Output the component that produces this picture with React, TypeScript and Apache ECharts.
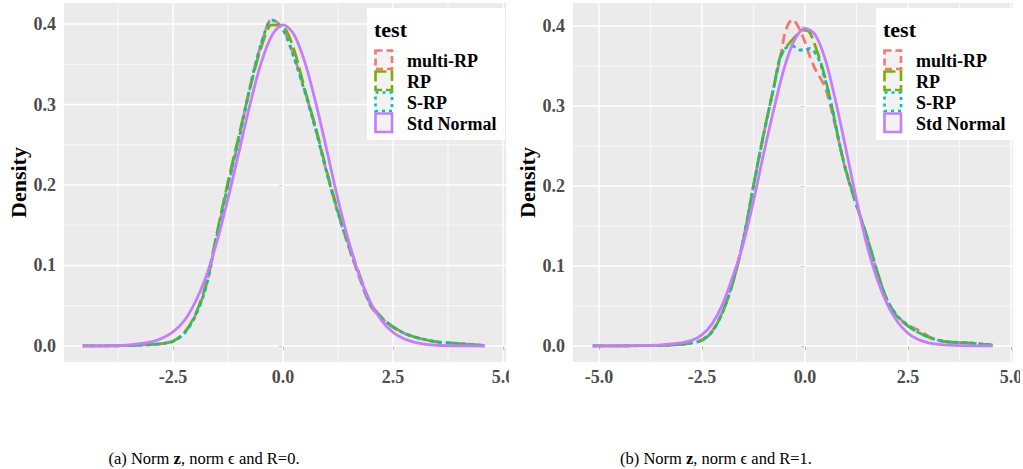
import React, { useEffect, useRef } from "react";
import * as echarts from "echarts";

const FONT = "'Liberation Serif', 'Times New Roman', serif";

const SERIES_NAMES = ["multi-RP", "RP", "S-RP", "Std Normal"];
const COLORS = ["#F8766D", "#7CAE00", "#00BFC4", "#C77CFF"];
const DASHES: (number[] | null)[] = [[10, 5], [16, 5], [4, 4], null];
const LEGEND_TITLE = "test";
const Y_TITLE = "Density";

const Y_TICKS = [0, 0.1, 0.2, 0.3, 0.4];
const Y_MINOR = [0.05, 0.15, 0.25, 0.35];
const A_X_TICKS = [-2.5, 0, 2.5, 5];
const B_X_TICKS = [-5, -2.5, 0, 2.5, 5];
const X_MINOR = [-3.75, -1.25, 1.25, 3.75];

// ---------- panel (a): R=0 ----------
const A_X = [-4.55, -4, -3.5, -3, -2.75, -2.5, -2.25, -2, -1.75, -1.5, -1.25, -1, -0.75, -0.5, -0.25, 0, 0.25, 0.5, 0.75, 1, 1.25, 1.5, 1.75, 2, 2.25, 2.5, 2.75, 3, 3.25, 3.5, 4, 4.59];
const A_MULTI = [0.0001, 0.0002, 0.0006, 0.0018, 0.003, 0.006, 0.016, 0.037, 0.074, 0.138, 0.199, 0.258, 0.322, 0.374, 0.406, 0.394, 0.36, 0.316, 0.268, 0.214, 0.165, 0.122, 0.083, 0.049, 0.034, 0.023, 0.016, 0.011, 0.0075, 0.005, 0.003, 0.0005];
const A_RP = [0.0001, 0.0002, 0.0005, 0.0017, 0.003, 0.006, 0.016, 0.038, 0.077, 0.141, 0.204, 0.262, 0.32, 0.37, 0.399, 0.397, 0.368, 0.318, 0.27, 0.216, 0.168, 0.126, 0.087, 0.052, 0.035, 0.024, 0.016, 0.011, 0.0075, 0.005, 0.003, 0.0005];
const A_SRP = [0.0001, 0.0002, 0.0005, 0.0017, 0.003, 0.0055, 0.015, 0.036, 0.073, 0.137, 0.2, 0.257, 0.321, 0.375, 0.405, 0.393, 0.358, 0.315, 0.267, 0.214, 0.165, 0.123, 0.084, 0.05, 0.034, 0.024, 0.016, 0.011, 0.008, 0.005, 0.003, 0.0005];
const A_STD = [0.0001, 0.0003, 0.0012, 0.005, 0.0095, 0.0175, 0.031, 0.054, 0.086, 0.13, 0.183, 0.241, 0.3, 0.351, 0.386, 0.399, 0.387, 0.352, 0.301, 0.242, 0.182, 0.129, 0.085, 0.053, 0.031, 0.017, 0.009, 0.0044, 0.002, 0.0009, 0.0002, 0.0];

// ---------- panel (b): R=1 ----------
const B_MULTI_X = [-5.15, -4.5, -4, -3.5, -3, -2.75, -2.5, -2.25, -2, -1.75, -1.5, -1.25, -1, -0.75, -0.6, -0.5, -0.4, -0.3, -0.15, 0, 0.12, 0.25, 0.5, 0.75, 1, 1.25, 1.5, 1.75, 2, 2.25, 2.5, 2.75, 3, 3.25, 3.5, 4, 4.56];
const B_MULTI = [0.0001, 0.0002, 0.0004, 0.0008, 0.002, 0.004, 0.008, 0.019, 0.043, 0.08, 0.132, 0.2, 0.265, 0.325, 0.36, 0.388, 0.403, 0.408, 0.398, 0.38, 0.362, 0.346, 0.322, 0.272, 0.217, 0.176, 0.137, 0.093, 0.057, 0.037, 0.026, 0.02, 0.012, 0.007, 0.005, 0.0035, 0.001];
const B_RP_X = [-5.15, -4.5, -4, -3.5, -3, -2.75, -2.5, -2.25, -2, -1.75, -1.5, -1.25, -1, -0.75, -0.6, -0.45, -0.25, -0.05, 0.1, 0.25, 0.45, 0.65, 0.85, 1, 1.25, 1.5, 1.75, 2, 2.25, 2.5, 2.75, 3, 3.25, 3.5, 4, 4.56];
const B_RP = [0.0001, 0.0002, 0.0004, 0.0008, 0.002, 0.004, 0.007, 0.018, 0.042, 0.079, 0.131, 0.2, 0.266, 0.325, 0.362, 0.374, 0.386, 0.395, 0.393, 0.375, 0.343, 0.3, 0.25, 0.219, 0.177, 0.138, 0.094, 0.056, 0.036, 0.025, 0.017, 0.011, 0.007, 0.005, 0.0035, 0.001];
const B_SRP_X = [-5.15, -4.5, -4, -3.5, -3, -2.75, -2.5, -2.25, -2, -1.75, -1.5, -1.25, -1, -0.75, -0.6, -0.45, -0.3, -0.12, 0, 0.12, 0.28, 0.4, 0.65, 0.85, 1, 1.25, 1.5, 1.75, 2, 2.25, 2.5, 2.75, 3, 3.25, 3.5, 4, 4.56];
const B_SRP = [0.0001, 0.0002, 0.0004, 0.0008, 0.002, 0.004, 0.007, 0.018, 0.042, 0.08, 0.132, 0.2, 0.265, 0.325, 0.36, 0.373, 0.375, 0.37, 0.37, 0.372, 0.364, 0.349, 0.3, 0.25, 0.218, 0.176, 0.137, 0.093, 0.057, 0.037, 0.026, 0.017, 0.011, 0.007, 0.005, 0.004, 0.001];
const B_STD_X = [-5.15, -4.5, -4, -3.5, -3, -2.75, -2.5, -2.25, -2, -1.75, -1.5, -1.25, -1, -0.75, -0.5, -0.25, 0, 0.25, 0.5, 0.75, 1, 1.25, 1.5, 1.75, 2, 2.25, 2.5, 2.75, 3, 3.25, 3.5, 4, 4.56];
const B_STD = [0.0001, 0.0003, 0.0007, 0.0015, 0.004, 0.007, 0.014, 0.028, 0.052, 0.087, 0.127, 0.181, 0.241, 0.297, 0.348, 0.383, 0.397, 0.389, 0.357, 0.305, 0.245, 0.183, 0.127, 0.084, 0.052, 0.03, 0.016, 0.008, 0.004, 0.002, 0.001, 0.0003, 0.0001];

const CAPTION_A = "(a) Norm {b|z}, norm ϵ and R=0.";
const CAPTION_B = "(b) Norm {b|z}, norm ϵ and R=1.";

type Spec = {
  xMin: number;
  xMax: number;
  yMin: number;
  yMax: number;
  gridLeft: number;
  gridWidth: number;
  xTicks: number[];
  series: { xs: number[]; ys: number[] }[];
  caption: string;
  captionX: number;
};

const SPEC_A: Spec = {
  xMin: -4.977,
  xMax: 5.068,
  yMin: -0.0199,
  yMax: 0.4261,
  gridLeft: 64,
  gridWidth: 442,
  xTicks: A_X_TICKS,
  series: [
    { xs: A_X, ys: A_MULTI },
    { xs: A_X, ys: A_RP },
    { xs: A_X, ys: A_SRP },
    { xs: A_X, ys: A_STD },
  ],
  caption: CAPTION_A,
  captionX: 204,
};

const SPEC_B: Spec = {
  xMin: -5.63,
  xMax: 5.05,
  yMin: -0.02,
  yMax: 0.42875,
  gridLeft: 64,
  gridWidth: 440,
  xTicks: B_X_TICKS,
  series: [
    { xs: B_MULTI_X, ys: B_MULTI },
    { xs: B_RP_X, ys: B_RP },
    { xs: B_SRP_X, ys: B_SRP },
    { xs: B_STD_X, ys: B_STD },
  ],
  caption: CAPTION_B,
  captionX: 207,
};

function buildOption(p: Spec): any {
  const gridData = [
    ...X_MINOR.map((v) => [v, 0, 0, 0]),
    ...Y_MINOR.map((v) => [0, v, 1, 0]),
    ...p.xTicks.map((v) => [v, 0, 0, 1]),
    ...Y_TICKS.map((v) => [0, v, 1, 1]),
  ];
  const tickLabel = {
    color: "#4D4D4D",
    fontFamily: FONT,
    fontWeight: "bold",
    fontSize: 18,
    formatter: (v: number) => Number(v).toFixed(1),
  };
  const lineSeries = p.series.map((s, i) => ({
    type: "line",
    name: SERIES_NAMES[i],
    data: s.xs.map((x, j) => [x, s.ys[j]]),
    showSymbol: false,
    symbol: "none",
    smooth: 0.3,
    z: 3,
    lineStyle: {
      color: COLORS[i],
      width: 2.8,
      type: DASHES[i] ? DASHES[i] : "solid",
    },
    emphasis: { disabled: true },
  }));

  const legendGraphics: any[] = [
    { type: "rect", shape: { x: 367, y: 8, width: 138, height: 132 }, style: { fill: "#ffffff" }, z: 100 },
    {
      type: "text",
      x: 374,
      y: 29,
      style: { text: LEGEND_TITLE, fontFamily: FONT, fontWeight: "bold", fontSize: 22, fill: "#000", verticalAlign: "middle" },
      z: 101,
    },
  ];
  SERIES_NAMES.forEach((name, i) => {
    const st: any = { fill: "#F2F2F2", stroke: COLORS[i], lineWidth: 2.6 };
    if (DASHES[i]) st.lineDash = [Math.round(DASHES[i]![0] * 0.7), 4];
    legendGraphics.push({
      type: "rect",
      shape: { x: 375.5, y: 50.5 + i * 21, width: 16.5, height: 18.5 },
      style: st,
      z: 101,
    });
    legendGraphics.push({
      type: "text",
      x: 407,
      y: 60.5 + i * 21,
      style: { text: name, fontFamily: FONT, fontWeight: "bold", fontSize: 18, fill: "#000", verticalAlign: "middle" },
      z: 101,
    });
  });
  legendGraphics.push({
    type: "text",
    x: p.captionX,
    y: 458,
    style: {
      text: p.caption,
      fontFamily: FONT,
      fontSize: 16.5,
      fill: "#000",
      align: "center",
      verticalAlign: "middle",
      rich: {
        b: { fontFamily: FONT, fontSize: 16.5, fontWeight: "bold", fill: "#000" },
      },
    },
    z: 101,
  });

  return {
    animation: false,
    backgroundColor: "#ffffff",
    grid: {
      left: p.gridLeft,
      top: 3,
      width: p.gridWidth,
      height: 359,
      show: true,
      backgroundColor: "#EBEBEB",
      borderWidth: 0,
      containLabel: false,
      outerBoundsMode: "none",
    },
    xAxis: {
      type: "value",
      min: p.xMin,
      max: p.xMax,
      axisLine: { show: false },
      splitLine: { show: false },
      axisTick: { show: true, length: 4, lineStyle: { color: "#333333", width: 1 }, customValues: p.xTicks },
      axisLabel: { ...tickLabel, margin: 6, customValues: p.xTicks },
    },
    yAxis: {
      type: "value",
      min: p.yMin,
      max: p.yMax,
      name: Y_TITLE,
      nameLocation: "middle",
      nameGap: 35,
      nameRotate: 90,
      nameMoveOverlap: false,
      nameTextStyle: { fontFamily: FONT, fontWeight: "bold", fontSize: 22, color: "#000" },
      axisLine: { show: false },
      splitLine: { show: false },
      axisTick: { show: true, length: 4, lineStyle: { color: "#333333", width: 1 }, customValues: Y_TICKS },
      axisLabel: { ...tickLabel, margin: 8, customValues: Y_TICKS },
    },
    series: [
      {
        type: "custom",
        name: "grid",
        silent: true,
        z: 1,
        dimensions: ["x", "y", "o", "m"],
        encode: { x: 0, y: 1 },
        data: gridData,
        renderItem: (params: any, api: any) => {
          const cs = params.coordSys;
          const vertical = api.value(2) === 0;
          const major = api.value(3) === 1;
          const pt = api.coord([api.value(0), api.value(1)]);
          const shape = vertical
            ? { x1: pt[0], y1: cs.y, x2: pt[0], y2: cs.y + cs.height }
            : { x1: cs.x, y1: pt[1], x2: cs.x + cs.width, y2: pt[1] };
          return {
            type: "line",
            shape,
            style: { stroke: "#ffffff", lineWidth: major ? 1.4 : 0.7 },
          };
        },
      },
      ...lineSeries,
    ],
    graphic: legendGraphics,
  };
}

function Panel({ spec, left, width }: { spec: Spec; left: number; width: number }) {
  const ref = useRef<HTMLDivElement>(null);
  useEffect(() => {
    const chart = echarts.init(ref.current!, undefined, { renderer: "svg" });
    chart.setOption(buildOption(spec));
    return () => chart.dispose();
  }, [spec]);
  return (
    <div
      ref={ref}
      style={{ position: "absolute", left, top: 0, width, height: 469, overflow: "hidden" }}
    />
  );
}

export default function App() {
  return (
    <div style={{ position: "fixed", left: 0, top: 0, width: 1023, height: 469, background: "#ffffff" }}>
      <Panel spec={SPEC_A} left={0} width={509} />
      <Panel spec={SPEC_B} left={509} width={511} />
    </div>
  );
}
